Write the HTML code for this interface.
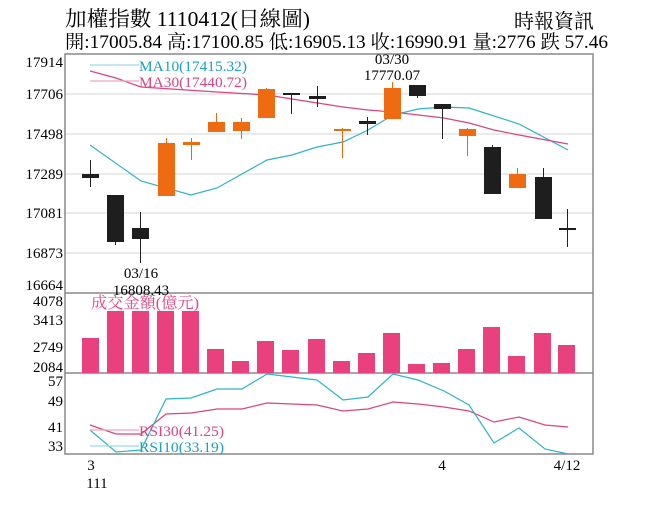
<!DOCTYPE html>
<html><head><meta charset="utf-8"><style>body{margin:0;background:#fff}svg{display:block}text{font-family:"Liberation Serif","Noto Serif CJK SC","Noto Sans CJK TC",serif}</style></head>
<body>
<svg width="656" height="506" viewBox="0 0 656 506" xmlns="http://www.w3.org/2000/svg">
<rect width="656" height="506" fill="#fff"/>
<text x="65" y="26" font-size="21" textLength="245" lengthAdjust="spacingAndGlyphs">加權指數 1110412(日線圖)</text>
<text x="514" y="28" font-size="20" textLength="80" lengthAdjust="spacingAndGlyphs">時報資訊</text>
<text x="65" y="48" font-size="19" textLength="543" lengthAdjust="spacingAndGlyphs">開:17005.84 高:17100.85 低:16905.13 收:16990.91 量:2776 跌 57.46</text>
<g stroke="#e4e4e4" stroke-width="1.5">
<line x1="65" y1="94" x2="593" y2="94"/><line x1="65" y1="134" x2="593" y2="134"/><line x1="65" y1="174" x2="593" y2="174"/><line x1="65" y1="213" x2="593" y2="213"/><line x1="65" y1="253" x2="593" y2="253"/>
</g>
<g stroke="#888" stroke-width="1.5" fill="none">
<rect x="65" y="54" width="528" height="400"/>
<line x1="65" y1="293" x2="593" y2="293"/><line x1="65" y1="373" x2="593" y2="373"/>
</g>
<g font-size="15" text-anchor="end">
<text x="63" y="67">17914</text><text x="63" y="99">17706</text><text x="63" y="139">17498</text><text x="63" y="179">17289</text><text x="63" y="218">17081</text><text x="63" y="258">16873</text><text x="63" y="290">16664</text>
<text x="63" y="306">4078</text><text x="63" y="325">3413</text><text x="63" y="352">2749</text><text x="63" y="372">2084</text>
<text x="63" y="386">57</text><text x="63" y="406">49</text><text x="63" y="432">41</text><text x="63" y="451">33</text>
</g>
<g fill="#e8417e">
<rect x="82" y="338" width="17" height="35"/><rect x="107" y="311" width="17" height="62"/><rect x="132" y="311" width="17" height="62"/><rect x="157" y="311" width="17" height="62"/><rect x="182" y="311" width="17" height="62"/><rect x="207" y="349" width="17" height="24"/><rect x="232" y="361" width="17" height="12"/><rect x="257" y="341" width="17" height="32"/><rect x="282" y="350" width="17" height="23"/><rect x="308" y="339" width="17" height="34"/><rect x="333" y="361" width="17" height="12"/><rect x="358" y="353" width="17" height="20"/><rect x="383" y="333" width="17" height="40"/><rect x="408" y="364" width="17" height="9"/><rect x="433" y="363" width="17" height="10"/><rect x="458" y="349" width="17" height="24"/><rect x="483" y="327" width="17" height="46"/><rect x="508" y="356" width="17" height="17"/><rect x="534" y="333" width="17" height="40"/><rect x="558" y="345" width="17" height="28"/>
</g>
<text x="91" y="308" font-size="16" fill="#e8417e" textLength="108" lengthAdjust="spacingAndGlyphs">成交金額(億元)</text>
<g stroke-width="1.2" fill="none">
<polyline stroke="#2fb3c8" points="90,145 141,181 191,195 217,188 267,160 292,155 317,147 343,142 368,130 393,115 418,109 444,107 469,108 519,124 568,150"/>
<polyline stroke="#d9457f" points="90,71 116,78 141,87 217,92 267,95 292,99 343,107 368,110 393,112 444,118 469,123 494,130 519,135 568,144"/>
<polyline stroke="#d9457f" points="90,425 116,434 141,434 166,414 191,413 217,409 242,409 267,403 317,405 343,411 368,409 393,402 418,404 444,407 469,411 494,422 519,417 545,425 568,427"/>
<polyline stroke="#2fb3c8" points="90,430 116,452 141,450 166,399 191,398 217,389 242,389 267,374 317,380 343,400 368,397 393,374 418,380 444,391 469,405 494,443 519,428 545,449 568,454"/>
<line x1="90" y1="65" x2="139" y2="65" stroke="#9cd9e4"/>
<line x1="90" y1="81" x2="139" y2="81" stroke="#eda6c2"/>
<line x1="90" y1="430" x2="139" y2="430" stroke="#eda6c2"/>
<line x1="90" y1="446" x2="139" y2="446" stroke="#9cd9e4"/>
</g>
<text x="139" y="71" font-size="15" fill="#1a9fc0" textLength="108" lengthAdjust="spacingAndGlyphs">MA10(17415.32)</text>
<text x="139" y="87" font-size="15" fill="#d9457f" textLength="108" lengthAdjust="spacingAndGlyphs">MA30(17440.72)</text>
<text x="139" y="436" font-size="15" fill="#d9457f" textLength="85" lengthAdjust="spacingAndGlyphs">RSI30(41.25)</text>
<text x="139" y="452" font-size="15" fill="#1a9fc0" textLength="85" lengthAdjust="spacingAndGlyphs">RSI10(33.19)</text>
<g stroke-width="1">
<g stroke="#222"><line x1="90.5" y1="160" x2="90.5" y2="187"/><line x1="115.5" y1="195" x2="115.5" y2="245"/><line x1="140.5" y1="212" x2="140.5" y2="263"/><line x1="291.5" y1="93" x2="291.5" y2="114"/><line x1="317.5" y1="86" x2="317.5" y2="107"/><line x1="367.5" y1="117" x2="367.5" y2="135"/><line x1="417.5" y1="85" x2="417.5" y2="98"/><line x1="442.5" y1="104" x2="442.5" y2="139"/><line x1="492.5" y1="145" x2="492.5" y2="194"/><line x1="543.5" y1="168" x2="543.5" y2="219"/><line x1="567.5" y1="209" x2="567.5" y2="247"/></g>
<g stroke="#e8690f"><line x1="166.5" y1="138" x2="166.5" y2="196"/><line x1="191.5" y1="138" x2="191.5" y2="160"/><line x1="216.5" y1="113" x2="216.5" y2="132"/><line x1="241.5" y1="118" x2="241.5" y2="139"/><line x1="266.5" y1="88" x2="266.5" y2="118"/><line x1="342.5" y1="128" x2="342.5" y2="158"/><line x1="392.5" y1="82" x2="392.5" y2="119"/><line x1="467.5" y1="128" x2="467.5" y2="156"/><line x1="517.5" y1="168" x2="517.5" y2="188"/></g>
</g>
<g fill="#1e1e1e">
<rect x="82" y="174" width="17" height="4"/><rect x="107" y="195" width="17" height="47"/><rect x="132" y="228" width="17" height="11"/><rect x="283" y="93" width="17" height="2"/><rect x="309" y="96" width="17" height="3"/><rect x="359" y="121" width="17" height="3"/><rect x="409" y="85" width="17" height="11"/><rect x="434" y="104" width="17" height="5"/><rect x="484" y="147" width="17" height="47"/><rect x="535" y="177" width="17" height="42"/><rect x="559" y="228" width="17" height="2"/>
</g>
<g fill="#ee6b12">
<rect x="158" y="143" width="17" height="53"/><rect x="183" y="142" width="17" height="3"/><rect x="208" y="122" width="17" height="10"/><rect x="233" y="122" width="17" height="9"/><rect x="258" y="89" width="17" height="29"/><rect x="334" y="129" width="17" height="2"/><rect x="384" y="88" width="17" height="31"/><rect x="459" y="129" width="17" height="7"/><rect x="509" y="174" width="17" height="14"/>
</g>
<g font-size="15" text-anchor="middle">
<text x="141" y="278">03/16</text><text x="141" y="295">16808.43</text>
<text x="392" y="64">03/30</text><text x="392" y="80">17770.07</text>
<text x="91" y="470">3</text><text x="97" y="488">111</text><text x="442" y="470">4</text><text x="567" y="470">4/12</text>
</g>
</svg>
</body></html>
